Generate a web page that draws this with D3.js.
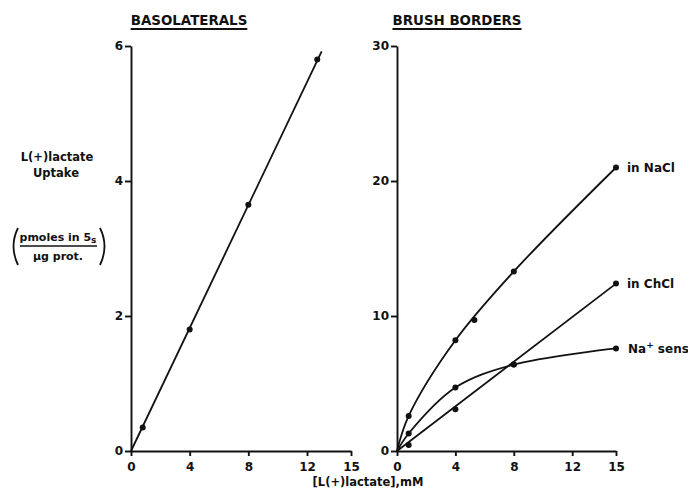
<!DOCTYPE html>
<html>
<head>
<meta charset="utf-8">
<script src="https://cdn.jsdelivr.net/npm/d3@7"></script>
<style>
  body { margin: 0; background: #fff; }
  svg { display: block; }
  text { font-family: "DejaVu Sans", sans-serif; font-weight: bold; fill: #111; }
  .axis path, .axis line { stroke: #111; stroke-width: 1.9; }
  .axis text { font-family: "DejaVu Sans", sans-serif; font-size: 12px; font-weight: bold; fill: #111; }
</style>
</head>
<body>
<svg id="chart" width="688" height="494"></svg>
<script>
// tick values
var xTicks = [0, 4, 8, 12, 15];
var yTicksBaso = [0, 2, 4, 6];
var yTicksBrush = [0, 10, 20, 30];

// basolaterals: measured points and drawn line
var basoX = [0.8, 4, 8, 12.7];
var basoY = [0.35, 1.8, 3.65, 5.8];
var basoLineX = [0, 13];
var basoLineY = [0, 5.92];

// brush borders: measured points
var naclX = [0.8, 4, 5.3, 8, 15];
var naclY = [2.6, 8.2, 9.7, 13.3, 21];
var chclX = [0.8, 4, 8, 15];
var chclY = [0.45, 3.1, 6.4, 12.4];
var sensX = [0.8, 4, 8, 15];
var sensY = [1.3, 4.7, 6.4, 7.6];

// brush borders: hand drawn curves
var naclCurveX = [0, 0.8, 4, 8, 15];
var naclCurveY = [0, 2.6, 8.2, 13.3, 21];
var chclCurveX = [0, 15];
var chclCurveY = [0, 12.4];
var sensCurveX = [0, 0.8, 4, 8, 15];
var sensCurveY = [0, 1.3, 4.7, 6.4, 7.6];

var svg = d3.select("#chart");

var xL = d3.scaleLinear().domain([0, 15]).range([131, 351]);
var yL = d3.scaleLinear().domain([0, 6]).range([451, 46]);
var xR = d3.scaleLinear().domain([0, 15]).range([397, 616]);
var yR = d3.scaleLinear().domain([0, 30]).range([451, 46]);

function zip(xs, ys) {
    return xs.map(function (x, i) { return [x, ys[i]]; });
}

function drawAxes(x, y, yTicks) {
    svg.append("g").attr("class", "axis")
        .attr("transform", "translate(0," + y(0) + ")")
        .call(d3.axisBottom(x).tickValues(xTicks).tickFormat(d3.format("d"))
            .tickSize(5).tickSizeOuter(0).tickPadding(6));
    svg.append("g").attr("class", "axis")
        .attr("transform", "translate(" + x(0) + ",0)")
        .call(d3.axisLeft(y).tickValues(yTicks).tickFormat(d3.format("d"))
            .tickSize(6).tickSizeOuter(0).tickPadding(2));
}

drawAxes(xL, yL, yTicksBaso);
drawAxes(xR, yR, yTicksBrush);

function curve(x, y, pts, kind) {
    var line = d3.line()
        .x(function (d) { return x(d[0]); })
        .y(function (d) { return y(d[1]); })
        .curve(kind || d3.curveLinear);
    svg.append("path")
        .attr("d", line(pts))
        .attr("fill", "none")
        .attr("stroke", "#111")
        .attr("stroke-width", 1.8);
}

function dots(x, y, pts) {
    svg.append("g").selectAll("circle")
        .data(pts).enter().append("circle")
        .attr("cx", function (d) { return x(d[0]); })
        .attr("cy", function (d) { return y(d[1]); })
        .attr("r", 3)
        .attr("fill", "#111");
}

// basolaterals
curve(xL, yL, zip(basoLineX, basoLineY));
dots(xL, yL, zip(basoX, basoY));

// brush borders
curve(xR, yR, zip(naclCurveX, naclCurveY), d3.curveCatmullRom.alpha(0.5));
curve(xR, yR, zip(chclCurveX, chclCurveY));
curve(xR, yR, zip(sensCurveX, sensCurveY), d3.curveCatmullRom.alpha(0.5));
dots(xR, yR, zip(naclX, naclY));
dots(xR, yR, zip(chclX, chclY));
dots(xR, yR, zip(sensX, sensY));

// series labels
svg.append("text").attr("x", xR(15) + 11).attr("y", yR(21) + 4)
    .style("font-size", "12px").text("in NaCl");
svg.append("text").attr("x", xR(15) + 11).attr("y", yR(12.4) + 4)
    .style("font-size", "12px").text("in ChCl");
var sens = svg.append("text").attr("x", xR(15) + 12).attr("y", yR(7.6) + 5)
    .style("font-size", "12px");
sens.append("tspan").text("Na");
sens.append("tspan").attr("dy", -5).style("font-size", "9px").text("+");
sens.append("tspan").attr("dy", 5).text(" sens");

// panel titles, underlined
function title(cx, label) {
    var t = svg.append("text").attr("x", cx).attr("y", 25)
        .attr("text-anchor", "middle")
        .style("font-size", "13.4px").text(label);
    var b = t.node().getBBox();
    svg.append("line")
        .attr("x1", b.x).attr("x2", b.x + b.width)
        .attr("y1", 29).attr("y2", 29)
        .attr("stroke", "#111").attr("stroke-width", 1.8);
}
title(189, "BASOLATERALS");
title(457, "BRUSH BORDERS");

// y axis label
svg.append("text").attr("x", 57).attr("y", 161).attr("text-anchor", "middle")
    .style("font-size", "11.5px").text("L(+)lactate");
svg.append("text").attr("x", 56).attr("y", 177).attr("text-anchor", "middle")
    .style("font-size", "11.5px").text("Uptake");
var num = svg.append("text").attr("x", 58).attr("y", 241).attr("text-anchor", "middle")
    .style("font-size", "11px");
num.append("tspan").text("pmoles in 5");
num.append("tspan").attr("dy", 2).style("font-size", "9px").text("s");
svg.append("line").attr("x1", 20).attr("x2", 97).attr("y1", 246).attr("y2", 246)
    .attr("stroke", "#111").attr("stroke-width", 1.5);
svg.append("text").attr("x", 58).attr("y", 260).attr("text-anchor", "middle")
    .style("font-size", "11px").text("μg prot.");
// big brackets round the unit
svg.append("path").attr("d", "M18,228 Q9,246 18,265")
    .attr("fill", "none").attr("stroke", "#111").attr("stroke-width", 1.8);
svg.append("path").attr("d", "M100,228 Q109,246 100,265")
    .attr("fill", "none").attr("stroke", "#111").attr("stroke-width", 1.8);

// x axis label
svg.append("text").attr("x", 368).attr("y", 486).attr("text-anchor", "middle")
    .style("font-size", "11.5px").text("[L(+)lactate],mM");
</script>
</body>
</html>
